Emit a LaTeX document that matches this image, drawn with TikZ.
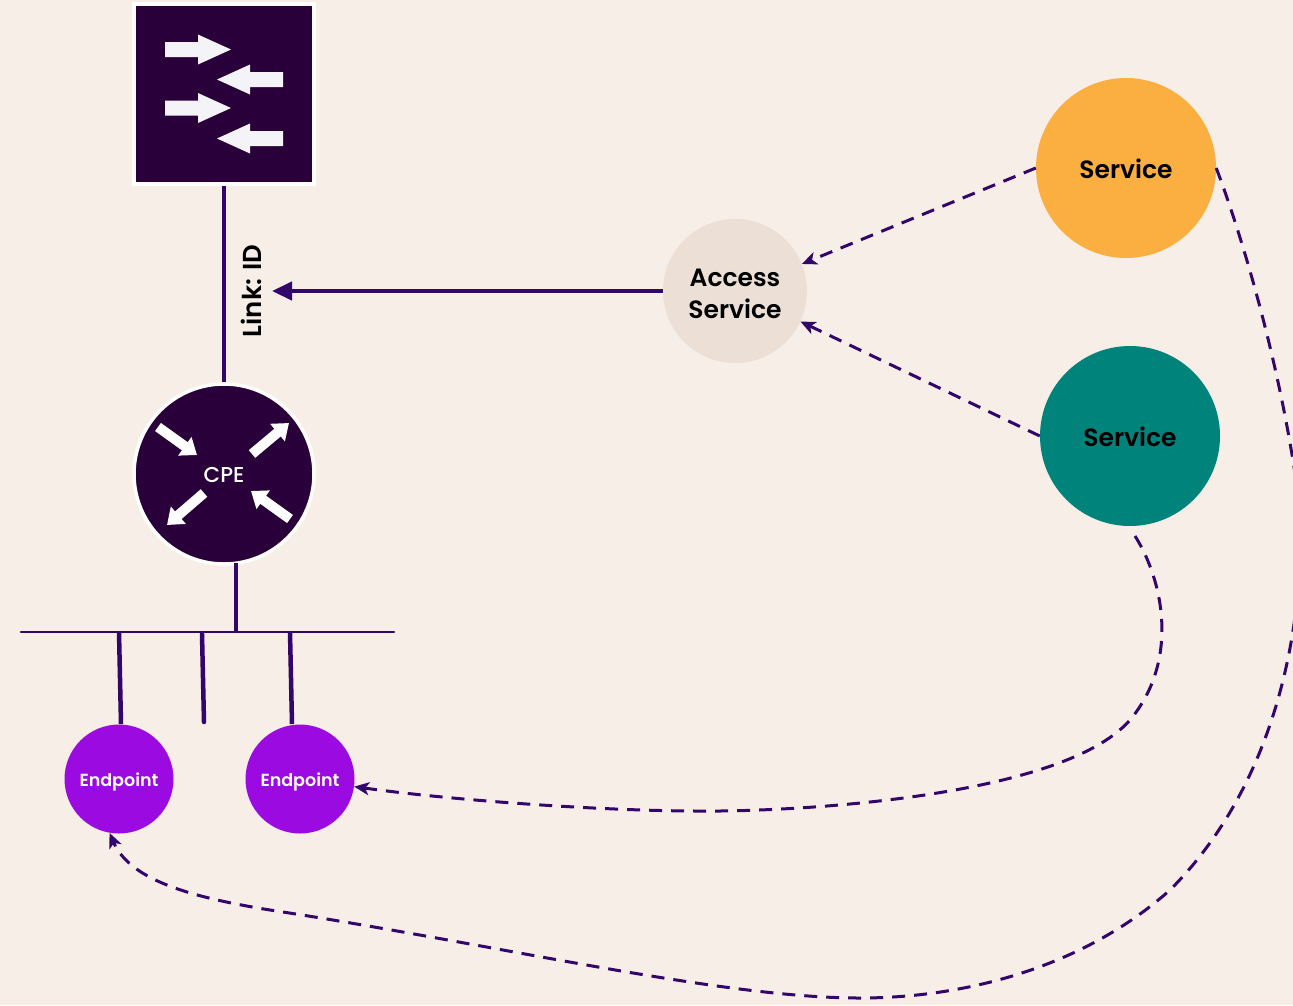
\documentclass[tikz,border=0pt]{standalone}
\usepackage{fontspec}
\setmainfont{Poppins}[BoldFont={Poppins SemiBold}]
\newfontfamily\cpefont{Poppins Medium}
\usetikzlibrary{arrows.meta}
\definecolor{paper}{HTML}{F7EEE8}
\definecolor{darkbox}{HTML}{29003A}
\definecolor{wire}{HTML}{33066B}
\definecolor{sunny}{HTML}{FBAF40}
\definecolor{teal}{HTML}{00837B}
\definecolor{sand}{HTML}{ECDFD6}
\definecolor{violet}{HTML}{9B0AE0}
\definecolor{iconwhite}{HTML}{F4F4F8}
\tikzset{
	service/.style={circle, minimum size=180, inner sep=0, text height=24.5, text depth=3, font=\fontsize{25}{30}\selectfont\bfseries, text=black},
	endpoint/.style={circle, fill=violet, minimum size=109, inner sep=0, text=white, text height=14, text depth=0, font=\fontsize{17.5}{22}\selectfont\bfseries},
	wired/.style={draw=wire, line width=4.5},
	flow/.style={draw=wire, line width=3, dash pattern=on 13 off 9, -{Stealth[length=15,width=13,inset=4]}},
	cpearrow/.style={draw=white, line width=10, -{Triangle[length=15,width=22]}},
}
\begin{document}
\begin{tikzpicture}[x=1pt, y=-1pt]
	\useasboundingbox (0,0) rectangle (1293,1005);
	\clip (0,0) rectangle (1293,1005);
	\fill[paper] (0,0) rectangle (1293,1005);
	% router and cpe
	\node (router) at (224,94) [rectangle, fill=darkbox, draw=white, line width=3.5, minimum size=180, inner sep=0] {};
	\node (cpe) at (224,474) [circle, fill=darkbox, draw=white, line width=3.5, minimum size=180, inner sep=0, text=white, text height=18, text depth=0.6, font=\cpefont\fontsize{21.5}{24}\selectfont] {CPE};
	\foreach \y in {49.5,108} {
		\fill[iconwhite] (165,\y-7.5) -- (198,\y-7.5) -- (198,\y-15) -- (231,\y) -- (198,\y+15) -- (198,\y+7.5) -- (165,\y+7.5) -- cycle;
	}
	\foreach \y in {79.5,138.5} {
		\fill[iconwhite] (283,\y-7.5) -- (250,\y-7.5) -- (250,\y-15) -- (217,\y) -- (250,\y+15) -- (250,\y+7.5) -- (283,\y+7.5) -- cycle;
	}
	\draw[cpearrow] (158,427) -- (197,455);
	\draw[cpearrow] (252,454) -- (289,423);
	\draw[cpearrow] (204,493) -- (167,525);
	\draw[cpearrow] (290,519) -- (251,491);
	% services
	\node (access) at (735,291) [service, fill=sand, minimum size=144, text height=26, text depth=4, font=\fontsize{25}{32}\selectfont\bfseries] {\begin{tabular}{@{}c@{}}Access\\Service\end{tabular}};
	\node (orange) at (1126,168) [service, fill=sunny] {Service};
	\node (green) at (1130,436) [service, fill=teal] {Service};
	\node (epa) at (119,779) [endpoint] {Endpoint};
	\node (epb) at (300,779) [endpoint] {Endpoint};
	% lan
	\coordinate (busl) at (21,632);
	\coordinate (busr) at (394,632);
	\coordinate (drop) at (204,722);
	\coordinate (droptop) at (202,634);
	\coordinate (greenout) at (1135,536);
	\draw[draw=wire, line width=2.6, line cap=round] (busl)--(busr);
	\draw[wired] (router.south)--(cpe.north);
	\draw[wired] (236,563)--(236,632);
	\draw[wired] (119,632)--(121,724);
	\draw[wired, line cap=round] (droptop)--(drop);
	\draw[wired] (290,632)--(292,724);
	% link
	\node (link) at (251.5,291) [rotate=90, font=\fontsize{26}{28}\selectfont\bfseries] {Link: ID};
	\coordinate (linkin) at (272,291);
	\draw[draw=wire, line width=4.5, -{Stealth[length=20,width=18,inset=0]}] (access.west)--(linkin);
	% dashed flows
	\draw[flow] (orange.west)--(access.22);
	\draw[flow] (green.west)--(access.-25);
	\draw[flow] (greenout) .. controls (1163,580) and (1180,660) .. (1130,720)
		.. controls (1060,800) and (780,812) .. (700,811)
		.. controls (600,811) and (450,800) .. (epb.-8);
	\draw[flow] (orange.east) .. controls (1240,230) and (1283,370) .. (1300,510)
		.. controls (1305,640) and (1270,790) .. (1170,890)
		.. controls (1080,970) and (960,998) .. (860,998)
		.. controls (720,998) and (500,945) .. (270,910)
		.. controls (190,897) and (130,880) .. (epa.-100);
\end{tikzpicture}
\end{document}
